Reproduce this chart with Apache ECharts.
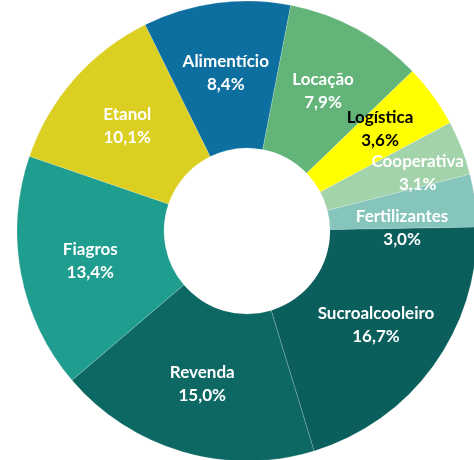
<!DOCTYPE html>
<html>
<head>
<meta charset="utf-8">
<script src="https://cdn.jsdelivr.net/npm/echarts@6/dist/echarts.min.js"></script>
<style>
html,body{margin:0;padding:0;background:#fff;}
#chart{width:474px;height:460px;}
</style>
</head>
<body>
<div id="chart"></div>
<script>
const categories = ['Sucroalcooleiro','Revenda','Fiagros','Etanol','Alimentício','Locação','Logística','Cooperativa','Fertilizantes'];
const values = [16.7, 15.0, 13.4, 10.1, 8.4, 7.9, 3.6, 3.1, 3.0];
const colors = ['#0a5e5c','#0d6863','#1f9d8e','#dbcf21','#0c6fa0','#63b479','#ffff00','#a3d3ab','#86c5bc'];
const labelColors = ['#fff','#fff','#fff','#fff','#fff','#fff','#000','#fff','#fff'];
const labelShift = {'Cooperativa':[22,0],'Fertilizantes':[-3,18],'Logística':[4,-8]};

const chart = echarts.init(document.getElementById('chart'));
chart.setOption({
  animation:false,
  series:[{
    type:'pie',
    center:[247,231],
    radius:[83,230],
    startAngle:1,
    clockwise:true,
    avoidLabelOverlap:false,
    itemStyle:{borderColor:'rgba(255,255,255,0.35)',borderWidth:0.5},
    label:{
      show:true,
      position:'inside',
      fontFamily:'Lato',
      fontWeight:'bold',
      fontSize:17,
      lineHeight:23,
      align:'center',
      formatter:function(p){return p.name+'\n'+p.value.toFixed(1).replace('.',',')+'%';}
    },
    labelLayout:function(p){
      const s = labelShift[categories[p.dataIndex]] || [0,0];
      return {dx:s[0],dy:s[1]};
    },
    emphasis:{disabled:true},
    data:categories.map((c,i)=>({
      name:c,value:values[i],
      itemStyle:{color:colors[i]},
      label:{color:labelColors[i]}
    }))
  }]
});
</script>
</body>
</html>
